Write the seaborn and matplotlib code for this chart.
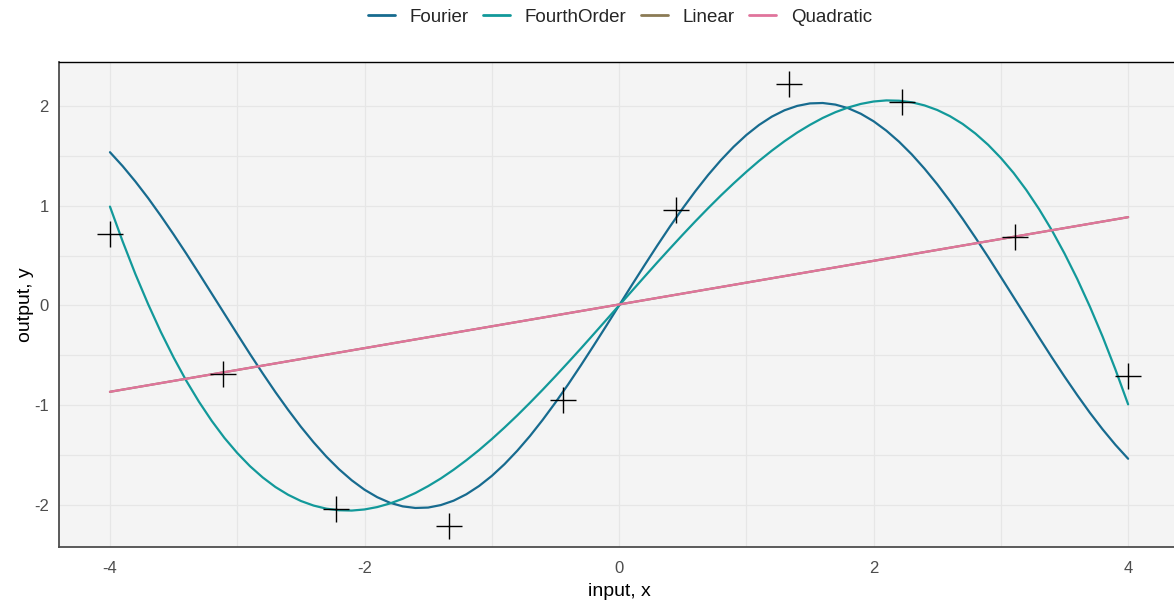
import numpy as np
import pandas as pd
import matplotlib
matplotlib.use("Agg")
import matplotlib.pyplot as plt
import seaborn as sns

# ---- data ----
obs_x = [-4.0, -3.111, -2.222, -1.333, -0.444, 0.444, 1.333, 2.222, 3.111, 4.0]
obs_y = [0.72, -0.69, -2.04, -2.21, -0.95, 0.96, 2.22, 2.04, 0.69, -0.71]

curve_x = [-4.0, -3.9, -3.8, -3.7, -3.6, -3.5, -3.4, -3.3, -3.2, -3.1,
           -3.0, -2.9, -2.8, -2.7, -2.6, -2.5, -2.4, -2.3, -2.2, -2.1,
           -2.0, -1.9, -1.8, -1.7, -1.6, -1.5, -1.4, -1.3, -1.2, -1.1,
           -1.0, -0.9, -0.8, -0.7, -0.6, -0.5, -0.4, -0.3, -0.2, -0.1,
           0.0,
           0.1, 0.2, 0.3, 0.4, 0.5, 0.6, 0.7, 0.8, 0.9, 1.0,
           1.1, 1.2, 1.3, 1.4, 1.5, 1.6, 1.7, 1.8, 1.9, 2.0,
           2.1, 2.2, 2.3, 2.4, 2.5, 2.6, 2.7, 2.8, 2.9, 3.0,
           3.1, 3.2, 3.3, 3.4, 3.5, 3.6, 3.7, 3.8, 3.9, 4.0]

fourier_y = [1.536, 1.396, 1.242, 1.076, 0.898, 0.712, 0.519, 0.320, 0.118, -0.084,
             -0.286, -0.486, -0.680, -0.868, -1.046, -1.215, -1.371, -1.514, -1.641, -1.752,
             -1.846, -1.921, -1.977, -2.013, -2.029, -2.025, -2.000, -1.956, -1.892, -1.809,
             -1.708, -1.590, -1.456, -1.308, -1.146, -0.973, -0.791, -0.600, -0.403, -0.203,
             0.0,
             0.203, 0.403, 0.600, 0.791, 0.973, 1.146, 1.308, 1.456, 1.590, 1.708,
             1.809, 1.892, 1.956, 2.000, 2.025, 2.029, 2.013, 1.977, 1.921, 1.846,
             1.752, 1.641, 1.514, 1.371, 1.215, 1.046, 0.868, 0.680, 0.486, 0.286,
             0.084, -0.118, -0.320, -0.519, -0.712, -0.898, -1.076, -1.242, -1.396, -1.536]

fourth_y = [0.991, 0.641, 0.314, 0.013, -0.266, -0.521, -0.755, -0.966, -1.157, -1.328,
            -1.478, -1.610, -1.723, -1.819, -1.897, -1.959, -2.005, -2.036, -2.052, -2.055,
            -2.044, -2.020, -1.984, -1.937, -1.879, -1.810, -1.733, -1.646, -1.551, -1.449,
            -1.339, -1.223, -1.102, -0.975, -0.844, -0.709, -0.571, -0.431, -0.288, -0.144,
            0.0,
            0.144, 0.288, 0.431, 0.571, 0.709, 0.844, 0.975, 1.102, 1.223, 1.339,
            1.449, 1.551, 1.646, 1.733, 1.810, 1.879, 1.937, 1.984, 2.020, 2.044,
            2.055, 2.052, 2.036, 2.005, 1.959, 1.897, 1.819, 1.723, 1.610, 1.478,
            1.328, 1.157, 0.966, 0.755, 0.521, 0.266, -0.013, -0.314, -0.641, -0.991]

line_x = [-4.0, 4.0]
linear_y = [-0.865, 0.885]
quadratic_y = [-0.865, 0.885]

models = ["Fourier", "FourthOrder", "Linear", "Quadratic"]
colors = ["#176b8f", "#12999a", "#8b7b55", "#e0749c"]

x_ticks = [-4, -2, 0, 2, 4]
y_ticks = [-2, -1, 0, 1, 2]

# ---- build long table ----
frames = [
    pd.DataFrame({"x": curve_x, "y": fourier_y, "model": "Fourier"}),
    pd.DataFrame({"x": curve_x, "y": fourth_y, "model": "FourthOrder"}),
    pd.DataFrame({"x": line_x, "y": linear_y, "model": "Linear"}),
    pd.DataFrame({"x": line_x, "y": quadratic_y, "model": "Quadratic"}),
]
df = pd.concat(frames, ignore_index=True)
obs = pd.DataFrame({"x": obs_x, "y": obs_y})

sns.set_style("white")
plt.rcParams["font.family"] = ["Liberation Sans", "DejaVu Sans"]

fig = plt.figure(figsize=(11.74, 6.03), dpi=100)
ax = fig.add_axes([0.0503, 0.0929, 0.954, 0.8043])
ax.set_facecolor("#f4f4f4")

sns.lineplot(data=df, x="x", y="y", hue="model", hue_order=models,
             palette=dict(zip(models, colors)), linewidth=1.6, ax=ax,
             sort=False, estimator=None, legend=True)
sns.scatterplot(data=obs, x="x", y="y", marker="+", s=330, color="black",
                linewidth=1.0, ax=ax, zorder=5)

ax.set_xlim(-4.4, 4.4)
ax.set_ylim(-2.42, 2.44)
ax.set_xticks(x_ticks)
ax.set_yticks(y_ticks)
ax.set_xticklabels([str(v) if v >= 0 else "-" + str(-v) for v in x_ticks])
ax.set_yticklabels([str(v) if v >= 0 else "-" + str(-v) for v in y_ticks])
ax.set_xticks([-3, -1, 1, 3], minor=True)
ax.set_yticks([-1.5, -0.5, 0.5, 1.5], minor=True)
ax.grid(True, which="both", color="#e6e6e6", linewidth=0.9)
ax.set_axisbelow(True)

ax.tick_params(axis="both", which="major", labelsize=12, labelcolor="#4d4d4d",
               color="#d0d0d0", length=3, width=0.8)
ax.tick_params(axis="x", which="major", pad=7)
ax.tick_params(axis="y", which="major", pad=4.5)
ax.tick_params(axis="both", which="minor", length=0)

ax.set_xlabel("input, x", fontsize=14, color="black", labelpad=5)
ax.set_ylabel("output, y", fontsize=14, color="black", labelpad=0)

for side in ["left", "bottom"]:
    ax.spines[side].set_color("#4d4d4d")
    ax.spines[side].set_linewidth(1.3)
ax.spines["top"].set_color("black")
ax.spines["top"].set_linewidth(1.0)
ax.spines["right"].set_visible(False)

handles, labels = ax.get_legend_handles_labels()
ax.get_legend().remove()
hl = [(h, l) for h, l in zip(handles, labels) if l in models]
leg = fig.legend([h for h, _ in hl], [l for _, l in hl], loc="upper center",
                 bbox_to_anchor=(0.528, 1.014), ncol=4, frameon=False, fontsize=13.5,
                 handlelength=1.44, handletextpad=0.8, columnspacing=0.75)
for line in leg.get_lines():
    line.set_linewidth(2.0)

fig.savefig("out.png", dpi=100)
